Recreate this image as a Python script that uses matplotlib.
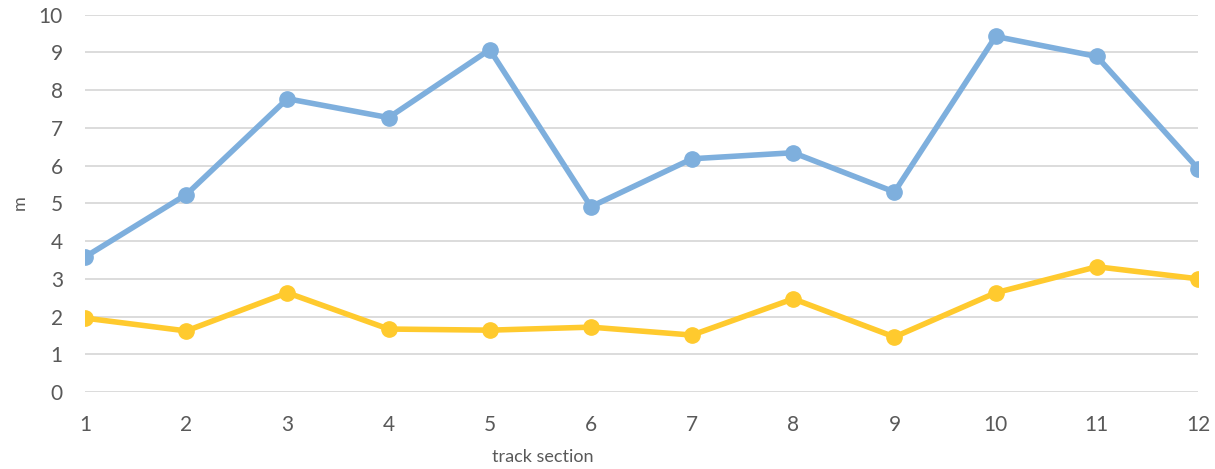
import matplotlib

matplotlib.use("Agg")

import matplotlib.pyplot as plt

sections = list(range(1, 13))
series_blue = [3.58, 5.23, 7.77, 7.27, 9.07, 4.91, 6.18, 6.34, 5.30, 9.42, 8.89, 5.92]
series_yellow = [1.96, 1.62, 2.63, 1.67, 1.64, 1.72, 1.51, 2.47, 1.46, 2.63, 3.32, 3.00]
y_ticks = list(range(0, 11))

TEXT = "#595959"
GRID = "#D9D9D9"

plt.rcParams["font.family"] = ["Lato", "DejaVu Sans"]

fig = plt.figure(figsize=(12.15, 4.69), dpi=100)
ax = fig.add_axes([0.070, 0.164, 0.916, 0.805])

ax.plot(sections, series_blue, color="#7EAFDD", lw=4.0, marker="o", ms=11,
        solid_capstyle="round", zorder=3)
ax.plot(sections, series_yellow, color="#FFCA2E", lw=4.0, marker="o", ms=11,
        solid_capstyle="round", zorder=3)

ax.set_xlim(1, 12)
ax.set_ylim(0, 10)
ax.set_xticks(sections)
ax.set_yticks(y_ticks)
ax.grid(axis="y", color=GRID, lw=1.3)
ax.set_axisbelow(True)
for spine in ax.spines.values():
    spine.set_visible(False)
ax.tick_params(length=0, labelsize=15, labelcolor=TEXT)
ax.tick_params(axis="x", pad=16.5)
ax.tick_params(axis="y", pad=16)
for lbl in ax.get_xticklabels() + ax.get_yticklabels():
    lbl.set_clip_on(False)

# axis titles sit where the chart places them, not centred on the axes
fig.text(543 / 1215, 1 - 457 / 469, "track section", fontsize=13, color=TEXT,
         ha="center", va="center")
fig.text(20 / 1215, 1 - 203 / 469, "m", fontsize=13, color=TEXT,
         ha="center", va="center", rotation=90)

fig.savefig("out.png", dpi=100)
